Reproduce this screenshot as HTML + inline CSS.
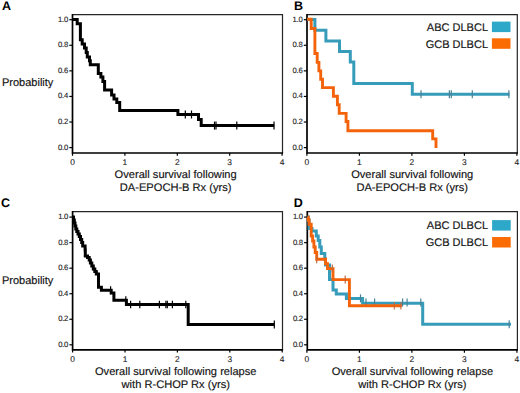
<!DOCTYPE html>
<html><head><meta charset="utf-8"><style>
html,body{margin:0;padding:0;background:#fff;width:520px;height:393px;overflow:hidden}
svg{display:block}
text{font-family:"Liberation Sans",sans-serif;fill:#111;text-rendering:geometricPrecision}
.tk{font-size:8.4px;fill:#222;stroke:#222;stroke-width:0.12px}
.yl{letter-spacing:-0.3px;font-size:7.7px}
.ti{font-size:11.1px;stroke:#1a1a1a;stroke-width:0.16px}
.tt{font-size:11px;stroke:#1a1a1a;stroke-width:0.16px}
.pl{font-size:12.5px;font-weight:bold;fill:#000}
</style></head><body>
<svg width="520" height="393" viewBox="0 0 520 393">
<path d="M72.5 14.6H282.5V153" fill="none" stroke="#262626" stroke-width="1.2"/>
<path d="M72.5 14V153H283.1" fill="none" stroke="#000" stroke-width="1.7"/>
<path d="M69.3 147.6H72.5" stroke="#000" stroke-width="1.2"/>
<text x="67.9" y="149.5" class="tk yl" text-anchor="end">0.0</text>
<path d="M69.3 122.02H72.5" stroke="#000" stroke-width="1.2"/>
<text x="67.9" y="123.92" class="tk yl" text-anchor="end">0.2</text>
<path d="M69.3 96.44H72.5" stroke="#000" stroke-width="1.2"/>
<text x="67.9" y="98.34" class="tk yl" text-anchor="end">0.4</text>
<path d="M69.3 70.86H72.5" stroke="#000" stroke-width="1.2"/>
<text x="67.9" y="72.76" class="tk yl" text-anchor="end">0.6</text>
<path d="M69.3 45.28H72.5" stroke="#000" stroke-width="1.2"/>
<text x="67.9" y="47.18" class="tk yl" text-anchor="end">0.8</text>
<path d="M69.3 19.7H72.5" stroke="#000" stroke-width="1.2"/>
<text x="67.9" y="21.6" class="tk yl" text-anchor="end">1.0</text>
<path d="M72.5 153V155.8" stroke="#000" stroke-width="1.2"/>
<text x="72.5" y="165.2" class="tk" text-anchor="middle">0</text>
<path d="M124.9 153V155.8" stroke="#000" stroke-width="1.2"/>
<text x="124.9" y="165.2" class="tk" text-anchor="middle">1</text>
<path d="M177.3 153V155.8" stroke="#000" stroke-width="1.2"/>
<text x="177.3" y="165.2" class="tk" text-anchor="middle">2</text>
<path d="M229.7 153V155.8" stroke="#000" stroke-width="1.2"/>
<text x="229.7" y="165.2" class="tk" text-anchor="middle">3</text>
<path d="M282.1 153V155.8" stroke="#000" stroke-width="1.2"/>
<text x="282.1" y="165.2" class="tk" text-anchor="middle">4</text>
<text x="175.65" y="177.8" class="ti" text-anchor="middle">Overall survival following</text>
<text x="175.65" y="191" class="ti" text-anchor="middle">DA-EPOCH-B Rx (yrs)</text>
<path d="M72.5 19.6H77.2V23.7H80.4V39.7H82.2V44H84.5V48H86.2V52.5H87.3V57H89.5V60.8H90.3V64.8H98.3V73.4H100.9V77.1H102.9V81.5H104.6V89.9H111.6V95H114V99H116.8V102.4H119.7V110.5H177.9V114.5H198.5V119.6H201.2V125.6H274.2" fill="none" stroke="#000" stroke-width="3"/>
<path d="M185.3 110.5V118.5" stroke="#000" stroke-width="1.2"/><path d="M191.5 110.5V118.5" stroke="#000" stroke-width="1.2"/>
<path d="M214.5 121.6V129.6" stroke="#000" stroke-width="1.2"/><path d="M216 121.6V129.6" stroke="#000" stroke-width="1.2"/><path d="M236.8 121.6V129.6" stroke="#000" stroke-width="1.2"/><path d="M274 121.6V129.6" stroke="#000" stroke-width="1.2"/>
<path d="M307 14.6H517.3V153" fill="none" stroke="#262626" stroke-width="1.2"/>
<path d="M307 14V153H517.9" fill="none" stroke="#000" stroke-width="1.7"/>
<path d="M303.8 147.6H307" stroke="#000" stroke-width="1.2"/>
<text x="302.4" y="149.5" class="tk yl" text-anchor="end">0.0</text>
<path d="M303.8 122.02H307" stroke="#000" stroke-width="1.2"/>
<text x="302.4" y="123.92" class="tk yl" text-anchor="end">0.2</text>
<path d="M303.8 96.44H307" stroke="#000" stroke-width="1.2"/>
<text x="302.4" y="98.34" class="tk yl" text-anchor="end">0.4</text>
<path d="M303.8 70.86H307" stroke="#000" stroke-width="1.2"/>
<text x="302.4" y="72.76" class="tk yl" text-anchor="end">0.6</text>
<path d="M303.8 45.28H307" stroke="#000" stroke-width="1.2"/>
<text x="302.4" y="47.18" class="tk yl" text-anchor="end">0.8</text>
<path d="M303.8 19.7H307" stroke="#000" stroke-width="1.2"/>
<text x="302.4" y="21.6" class="tk yl" text-anchor="end">1.0</text>
<path d="M306.9 153V155.8" stroke="#000" stroke-width="1.2"/>
<text x="306.9" y="165.2" class="tk" text-anchor="middle">0</text>
<path d="M359.4 153V155.8" stroke="#000" stroke-width="1.2"/>
<text x="359.4" y="165.2" class="tk" text-anchor="middle">1</text>
<path d="M411.9 153V155.8" stroke="#000" stroke-width="1.2"/>
<text x="411.9" y="165.2" class="tk" text-anchor="middle">2</text>
<path d="M464.4 153V155.8" stroke="#000" stroke-width="1.2"/>
<text x="464.4" y="165.2" class="tk" text-anchor="middle">3</text>
<path d="M516.9 153V155.8" stroke="#000" stroke-width="1.2"/>
<text x="516.9" y="165.2" class="tk" text-anchor="middle">4</text>
<text x="412.2" y="177.8" class="ti" text-anchor="middle">Overall survival following</text>
<text x="412.2" y="191" class="ti" text-anchor="middle">DA-EPOCH-B Rx (yrs)</text>
<path d="M307.2 19.6H314.9V30.3H325.9V41H339.5V51.5H350.3V62.1H353.8V83.5H412.3V94.2H509.5" fill="none" stroke="#369CBA" stroke-width="3"/>
<path d="M421 90.2V98.2" stroke="#4a8096" stroke-width="1.2"/><path d="M449.4 90.2V98.2" stroke="#4a8096" stroke-width="1.2"/><path d="M451.3 90.2V98.2" stroke="#4a8096" stroke-width="1.2"/><path d="M472.3 90.2V98.2" stroke="#4a8096" stroke-width="1.2"/><path d="M508.9 90.2V98.2" stroke="#4a8096" stroke-width="1.2"/>
<path d="M307.2 19.3H311.2V28.5H314.9V53.5H317.2V62.4H318.9V70.9H320.7V79.3H322.5V87.6H333.4V96.2H337.4V104.8H339.2V113.4H346.1V121.5H347.9V130.8H432.7V138.9H436V148" fill="none" stroke="#F4630A" stroke-width="2.9"/>
<text x="488" y="31.2" class="tt" text-anchor="end">ABC DLBCL</text>
<text x="488" y="47.9" class="tt" text-anchor="end">GCB DLBCL</text>
<rect x="491.9" y="21.6" width="18.6" height="10.5" fill="#2DA8C8"/>
<rect x="491.9" y="38.3" width="18.6" height="10.5" fill="#FC6C04"/>
<path d="M72.6 211.7H282.5V349.8" fill="none" stroke="#262626" stroke-width="1.2"/>
<path d="M72.6 211.1V349.8H283.1" fill="none" stroke="#000" stroke-width="1.7"/>
<path d="M69.4 344.8H72.6" stroke="#000" stroke-width="1.2"/>
<text x="68" y="346.7" class="tk yl" text-anchor="end">0.0</text>
<path d="M69.4 319.26H72.6" stroke="#000" stroke-width="1.2"/>
<text x="68" y="321.16" class="tk yl" text-anchor="end">0.2</text>
<path d="M69.4 293.72H72.6" stroke="#000" stroke-width="1.2"/>
<text x="68" y="295.62" class="tk yl" text-anchor="end">0.4</text>
<path d="M69.4 268.18H72.6" stroke="#000" stroke-width="1.2"/>
<text x="68" y="270.08" class="tk yl" text-anchor="end">0.6</text>
<path d="M69.4 242.64H72.6" stroke="#000" stroke-width="1.2"/>
<text x="68" y="244.54" class="tk yl" text-anchor="end">0.8</text>
<path d="M69.4 217.1H72.6" stroke="#000" stroke-width="1.2"/>
<text x="68" y="219" class="tk yl" text-anchor="end">1.0</text>
<path d="M72.6 349.8V352.6" stroke="#000" stroke-width="1.2"/>
<text x="72.6" y="362" class="tk" text-anchor="middle">0</text>
<path d="M125 349.8V352.6" stroke="#000" stroke-width="1.2"/>
<text x="125" y="362" class="tk" text-anchor="middle">1</text>
<path d="M177.4 349.8V352.6" stroke="#000" stroke-width="1.2"/>
<text x="177.4" y="362" class="tk" text-anchor="middle">2</text>
<path d="M229.8 349.8V352.6" stroke="#000" stroke-width="1.2"/>
<text x="229.8" y="362" class="tk" text-anchor="middle">3</text>
<path d="M282.2 349.8V352.6" stroke="#000" stroke-width="1.2"/>
<text x="282.2" y="362" class="tk" text-anchor="middle">4</text>
<text x="175.75" y="375.1" class="ti" text-anchor="middle">Overall survival following relapse</text>
<text x="175.75" y="388.3" class="ti" text-anchor="middle">with R-CHOP Rx (yrs)</text>
<path d="M72.6 217H73.5V220H74.3V223H75V226H75.8V229H76.8V231.5H78V234H79.3V236.5H80.5V239.5H81.7V242.5H82.7V246H85.1V250H85.3V256H87.5V257.5H89.2V260H90.4V263H91.8V266H93.3V269H94.8V271.5H96.3V274H98.5V287.3H101.4V290.2H111.2V293H113.9V300.2H126.4V304.5H188.2V324.5H274.3" fill="none" stroke="#000" stroke-width="3"/>
<path d="M125.8 296.2V304.2" stroke="#000" stroke-width="1.2"/>
<path d="M110.6 286.2V294.2" stroke="#000" stroke-width="1.2"/>
<path d="M130.6 300.8V308.2" stroke="#000" stroke-width="1.2"/><path d="M139.8 300.8V308.2" stroke="#000" stroke-width="1.2"/><path d="M159.4 300.8V308.2" stroke="#000" stroke-width="1.2"/><path d="M165.9 300.8V308.2" stroke="#000" stroke-width="1.2"/><path d="M167.3 300.8V308.2" stroke="#000" stroke-width="1.2"/><path d="M172.4 300.8V308.2" stroke="#000" stroke-width="1.2"/><path d="M185.8 300.8V308.2" stroke="#000" stroke-width="1.2"/>
<path d="M274.3 320.5V328.5" stroke="#000" stroke-width="1.2"/>
<path d="M307.3 211.7H517.4V349.9" fill="none" stroke="#262626" stroke-width="1.2"/>
<path d="M307.3 211.1V349.9H518" fill="none" stroke="#000" stroke-width="1.7"/>
<path d="M304.1 344.8H307.3" stroke="#000" stroke-width="1.2"/>
<text x="302.7" y="346.7" class="tk yl" text-anchor="end">0.0</text>
<path d="M304.1 319.26H307.3" stroke="#000" stroke-width="1.2"/>
<text x="302.7" y="321.16" class="tk yl" text-anchor="end">0.2</text>
<path d="M304.1 293.72H307.3" stroke="#000" stroke-width="1.2"/>
<text x="302.7" y="295.62" class="tk yl" text-anchor="end">0.4</text>
<path d="M304.1 268.18H307.3" stroke="#000" stroke-width="1.2"/>
<text x="302.7" y="270.08" class="tk yl" text-anchor="end">0.6</text>
<path d="M304.1 242.64H307.3" stroke="#000" stroke-width="1.2"/>
<text x="302.7" y="244.54" class="tk yl" text-anchor="end">0.8</text>
<path d="M304.1 217.1H307.3" stroke="#000" stroke-width="1.2"/>
<text x="302.7" y="219" class="tk yl" text-anchor="end">1.0</text>
<path d="M306.9 349.9V352.7" stroke="#000" stroke-width="1.2"/>
<text x="306.9" y="362.1" class="tk" text-anchor="middle">0</text>
<path d="M359.4 349.9V352.7" stroke="#000" stroke-width="1.2"/>
<text x="359.4" y="362.1" class="tk" text-anchor="middle">1</text>
<path d="M411.9 349.9V352.7" stroke="#000" stroke-width="1.2"/>
<text x="411.9" y="362.1" class="tk" text-anchor="middle">2</text>
<path d="M464.4 349.9V352.7" stroke="#000" stroke-width="1.2"/>
<text x="464.4" y="362.1" class="tk" text-anchor="middle">3</text>
<path d="M516.9 349.9V352.7" stroke="#000" stroke-width="1.2"/>
<text x="516.9" y="362.1" class="tk" text-anchor="middle">4</text>
<text x="412.4" y="375.1" class="ti" text-anchor="middle">Overall survival following relapse</text>
<text x="412.4" y="388.3" class="ti" text-anchor="middle">with R-CHOP Rx (yrs)</text>
<path d="M307.5 217H308.2V220H309.1V228.5H312V231H316.3V236H318.2V240.5H319.8V247H321.3V253.4H324.8V259H325.5V265H329.5V279.6H333V290H336.3V294H346.4V298.4H362.6V303.3H422.7V324.2H511" fill="none" stroke="#369CBA" stroke-width="3"/>
<path d="M360.5 294.3V302.3" stroke="#4a8096" stroke-width="1.2"/>
<path d="M366 298.6V306.6" stroke="#4a8096" stroke-width="1.2"/><path d="M374.6 298.6V306.6" stroke="#4a8096" stroke-width="1.2"/><path d="M402.6 298.6V306.6" stroke="#4a8096" stroke-width="1.2"/><path d="M407.1 298.6V306.6" stroke="#4a8096" stroke-width="1.2"/><path d="M420.8 298.6V306.6" stroke="#4a8096" stroke-width="1.2"/>
<path d="M509.2 320.2V328.2" stroke="#4a8096" stroke-width="1.2"/>
<path d="M307.5 217H308.2V220H309.1V224.3H311.2V236H312.6V241H313.9V247H315.2V252.5H316.7V259.3H325.6V263.8H327.5V268.6H333V279.6H349.4V305.8H401.8" fill="none" stroke="#F4630A" stroke-width="2.9"/>
<path d="M345.2 275.6V283.6" stroke="#c0683a" stroke-width="1.2"/>
<path d="M332.3 264.6V272.6" stroke="#c0683a" stroke-width="1.2"/>
<path d="M316.7 255.3V263.3" stroke="#c0683a" stroke-width="1.2"/>
<path d="M394.3 302.1V309.5" stroke="#c0683a" stroke-width="1.1"/><path d="M400.9 302.1V309.5" stroke="#c0683a" stroke-width="1.1"/>
<text x="488" y="228.9" class="tt" text-anchor="end">ABC DLBCL</text>
<text x="488" y="245.8" class="tt" text-anchor="end">GCB DLBCL</text>
<rect x="492.1" y="220.1" width="18.6" height="10.5" fill="#2DA8C8"/>
<rect x="492.1" y="237" width="18.6" height="10.5" fill="#FC6C04"/>
<text x="2" y="9.6" class="pl">A</text>
<text x="294" y="9.8" class="pl">B</text>
<text x="1" y="207.3" class="pl">C</text>
<text x="293.8" y="206.8" class="pl">D</text>
<text x="2" y="86.2" class="tt">Probability</text>
<text x="2" y="283.6" class="tt">Probability</text>
</svg>
</body></html>
